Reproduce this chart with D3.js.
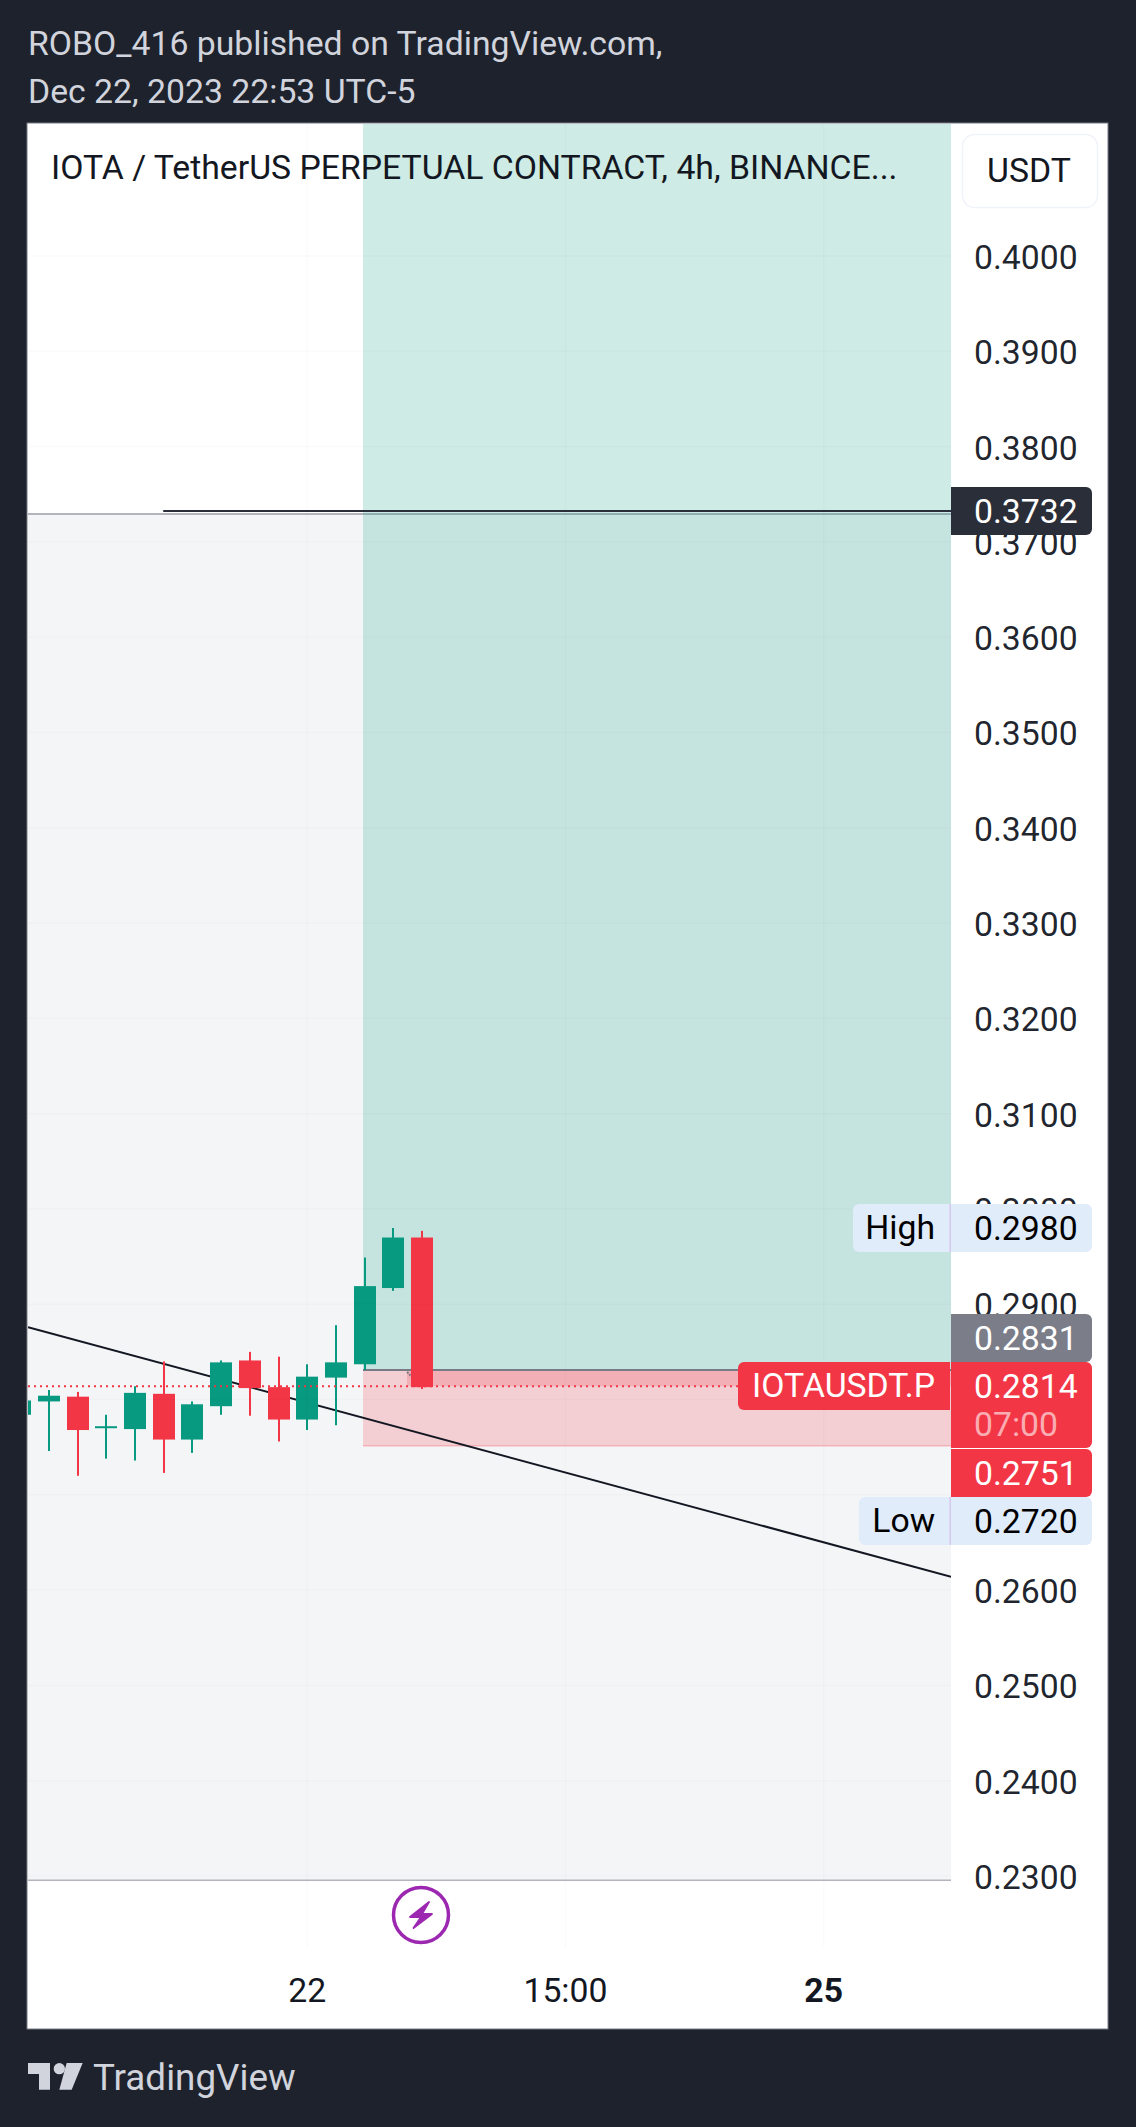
<!DOCTYPE html>
<html><head><meta charset="utf-8">
<style>html,body{margin:0;padding:0;background:#1e222d}svg{display:block}text{font-family:Roboto,sans-serif;font-size:33.75px}</style>
<script src="https://cdnjs.cloudflare.com/ajax/libs/d3/7.8.5/d3.min.js"></script>
</head><body><svg id="c" width="1136" height="2127"></svg>
<script>
// ---- data (one entry per 4h bar) ----
const barOpen  = [0.2784,0.2798,0.2803,0.2770,0.2769,0.2806,0.2758,0.2793,0.2841,0.2813,0.2779,0.2823,0.2837,0.2917,0.2970];
const barClose = [0.2799,0.2804,0.2768,0.2772,0.2807,0.2758,0.2795,0.2839,0.2812,0.2779,0.2824,0.2839,0.2919,0.2970,0.2813];
const barHigh  = [0.2805,0.2810,0.2808,0.2784,0.2814,0.2840,0.2798,0.2841,0.2850,0.2845,0.2837,0.2878,0.2949,0.2980,0.2977];
const barLow   = [0.2770,0.2746,0.2720,0.2738,0.2736,0.2723,0.2744,0.2784,0.2783,0.2756,0.2768,0.2773,0.2831,0.2914,0.2811];
const priceTicks = [0.40,0.39,0.38,0.37,0.36,0.35,0.34,0.33,0.32,0.31,0.30,0.29,0.28,0.27,0.26,0.25,0.24,0.23];
const timeTickBars = [10,19,28];
const timeTickLabels = ["22","15:00","25"];
const targetPrice = 0.3732, entryPrice = 0.2831, stopPrice = 0.2751, lastPrice = 0.2814;
const highPrice = 0.2980, lowPrice = 0.2720;
const trendBars = [0.27,32.44], trendPrices = [0.2876,0.2614];
const hLineBars = [4.98,32.44];
const titleText = "IOTA / TetherUS PERPETUAL CONTRACT, 4h, BINANCE...";
const headerLines = ["ROBO_416 published on TradingView.com,","Dec 22, 2023 22:53 UTC-5"];

const BG="#1e222d",UP="#089981",DOWN="#f23645",TXT="#131722",HL="#e1ecfb",RULE="#b2b5be";
const svg=d3.select("#c");
svg.append("rect").attr("width",1136).attr("height",2127).attr("fill",BG);
const L=28,R=951,T=124,PB=1881,FR=1107,FB=2028;
svg.append("rect").attr("x",L-1).attr("y",T-1).attr("width",FR-L+2).attr("height",FB-T+2).attr("fill","#fff").attr("stroke","#787b86").attr("stroke-width",1);
const x=d3.scaleLinear().domain([0,13]).range([20.3,393.3]);
const y=d3.scaleLinear().domain([0.40,0.23]).range([256,1876]);
svg.append("defs").append("clipPath").attr("id","pane").append("rect").attr("x",L).attr("y",T).attr("width",R-L).attr("height",PB-T);
const pane=svg.append("g").attr("clip-path","url(#pane)");
// grey zone below top line
const yT=Math.round(y(targetPrice));
pane.append("rect").attr("x",L).attr("y",yT+3).attr("width",R-L).attr("height",PB-yT-3).attr("fill","#f4f5f7");
pane.append("line").attr("x1",L).attr("x2",R).attr("y1",yT+3).attr("y2",yT+3).attr("stroke",RULE).attr("stroke-width",2);
pane.append("line").attr("x1",L).attr("x2",R).attr("y1",PB-0.5).attr("y2",PB-0.5).attr("stroke",RULE).attr("stroke-width",2);
// grid
const grid=svg.append("g").attr("stroke","#2a2e39").attr("stroke-opacity",0.02).attr("stroke-width",1.5);
priceTicks.forEach(p=>grid.append("line").attr("x1",L).attr("x2",R).attr("y1",y(p)).attr("y2",y(p)));
timeTickBars.forEach(b=>grid.append("line").attr("x1",x(b)).attr("x2",x(b)).attr("y1",T).attr("y2",1948));
// position tool
const pL=363,yE=y(entryPrice),yS=y(stopPrice),yC=y(lastPrice);
pane.append("rect").attr("x",pL).attr("y",T).attr("width",R-pL).attr("height",yE-T).attr("fill",UP).attr("fill-opacity",0.2);
pane.append("rect").attr("x",pL).attr("y",yE).attr("width",R-pL).attr("height",yS-yE).attr("fill",DOWN).attr("fill-opacity",0.2);
pane.append("rect").attr("x",407).attr("y",yE).attr("width",R-407).attr("height",yC-yE).attr("fill",DOWN).attr("fill-opacity",0.2);
pane.append("line").attr("x1",pL).attr("x2",R).attr("y1",yE).attr("y2",yE).attr("stroke","#787b86").attr("stroke-width",2);
pane.append("line").attr("x1",pL).attr("x2",R).attr("y1",yS-0.5).attr("y2",yS-0.5).attr("stroke",DOWN).attr("stroke-opacity",0.2).attr("stroke-width",1.5);
pane.append("line").attr("x1",407).attr("x2",413).attr("y1",1372).attr("y2",1378).attr("stroke","#787b86").attr("stroke-width",2).attr("stroke-dasharray","2 1");
// target line
pane.append("line").attr("x1",x(hLineBars[0])).attr("x2",x(hLineBars[1])).attr("y1",yT).attr("y2",yT).attr("stroke","#2a2e39").attr("stroke-width",2);
// trend line
const trend=d3.line().x(d=>x(d[0])).y(d=>y(d[1]));
pane.append("path").attr("d",trend(d3.zip(trendBars,trendPrices))).attr("fill","none").attr("stroke","#131722").attr("stroke-width",2);
// candles
const bars=d3.range(barOpen.length);
const col=i=>barClose[i]>=barOpen[i]?UP:DOWN;
pane.selectAll(".wick").data(bars).join("rect").attr("class","wick")
 .attr("x",i=>Math.round(x(i))-1).attr("width",2)
 .attr("y",i=>y(barHigh[i])).attr("height",i=>y(barLow[i])-y(barHigh[i])).attr("fill",col);
pane.selectAll(".body").data(bars).join("rect").attr("class","body")
 .attr("x",i=>Math.round(x(i))-11).attr("width",22)
 .attr("y",i=>y(Math.max(barOpen[i],barClose[i])))
 .attr("height",i=>Math.max(2,Math.abs(y(barOpen[i])-y(barClose[i])))).attr("fill",col);
// last price dotted line
pane.append("line").attr("x1",L).attr("x2",R).attr("y1",yC).attr("y2",yC).attr("stroke",DOWN).attr("stroke-width",2).attr("stroke-dasharray","2 4");
// title
svg.append("text").attr("x",51).attr("y",179).attr("fill",TXT).text(titleText);
// header
svg.selectAll(".hdr").data(headerLines).join("text").attr("class","hdr").attr("x",28).attr("y",(d,i)=>55+i*48).attr("fill","#d1d4dc").text(d=>d);
// price axis
const axisY=d3.axisRight(y).tickValues(priceTicks).tickSize(0).tickPadding(0).tickFormat(d3.format(".4f"));
const gY=svg.append("g").attr("transform","translate(974,0)").call(axisY);
gY.select(".domain").remove();
gY.selectAll("text").attr("x",0).attr("dy","0.37em").attr("fill",TXT).attr("fill-opacity",0.95).style("font-family","Roboto").style("font-size","33.75px");
// time axis
const gX=svg.append("g");
gX.selectAll("text").data(timeTickBars).join("text").attr("x",b=>x(b)).attr("y",2002).attr("text-anchor","middle").attr("fill",TXT)
 .attr("font-weight",(b,i)=>i==2?700:400).text((b,i)=>timeTickLabels[i]);
// USDT button
svg.append("rect").attr("x",962.5).attr("y",134.5).attr("width",135).attr("height",73).attr("rx",12).attr("fill","#fff").attr("stroke","#f0f3fa").attr("stroke-width",1.5);
svg.append("text").attr("x",1029).attr("y",182).attr("text-anchor","middle").attr("fill",TXT).text("USDT");
// price labels helper
function rr(x0,y0,w,h,fill,corners){ // corners tl,tr,br,bl
 const [a,b,c,d]=corners;
 const p=d3.path();
 p.moveTo(x0+a,y0);p.lineTo(x0+w-b,y0);p.arcTo(x0+w,y0,x0+w,y0+b,b);
 p.lineTo(x0+w,y0+h-c);p.arcTo(x0+w,y0+h,x0+w-c,y0+h,c);
 p.lineTo(x0+d,y0+h);p.arcTo(x0,y0+h,x0,y0+h-d,d);
 p.lineTo(x0,y0+a);p.arcTo(x0,y0,x0+a,y0,a);p.closePath();
 return svg.append("path").attr("d",p.toString()).attr("fill",fill);
}
const fmt=d3.format(".4f");
function priceBox(p,top,h,fill,color){
 rr(951,top,141,h,fill,[0,6,6,0]);
 svg.append("text").attr("x",974).attr("y",top+36).attr("fill",color).text(fmt(p));
}
function sideLabel(txt,left,top,fill,color){
 rr(left,top,950-left,48,fill,[6,0,0,6]);
 svg.append("text").attr("x",935).attr("y",top+35).attr("text-anchor","end").attr("fill",color).text(txt);
}
priceBox(targetPrice,487,48,"#2a2e39","#fff");
sideLabel("High",853,1204,HL,"#000");
priceBox(highPrice,1204,48,HL,"#000");
priceBox(entryPrice,1314,48,"#7b7d89","#fff");
priceBox(stopPrice,1449,48,DOWN,"#fff");
sideLabel("IOTAUSDT.P",738,1362,DOWN,"#fff");
priceBox(lastPrice,1362,86,DOWN,"#fff");
svg.append("text").attr("x",974).attr("y",1436).attr("fill","#fff").attr("fill-opacity",0.6).text("07:00");
sideLabel("Low",859,1497,HL,"#000");
priceBox(lowPrice,1497,48,HL,"#000");
[1204,1497].forEach(t=>svg.append("rect").attr("x",949.5).attr("y",t).attr("width",1.5).attr("height",48).attr("fill","#d6c8ec"));
// purple icon
const ic=svg.append("g").attr("transform","translate(421,1915)");
ic.append("circle").attr("r",27.5).attr("fill","#fff").attr("stroke","#9c27b0").attr("stroke-width",3.5);
ic.append("path").attr("d","M8,-13 L-11,2 L0,2 L-7.5,13 L11,-1 L1,-1 Z").attr("fill","#9c27b0").attr("stroke","#9c27b0").attr("stroke-width",1.8).attr("stroke-linejoin","round");
// footer logo
const lg=svg.append("g").attr("transform","translate(28,2063) scale(0.3333)").attr("fill","#d1d4dc");
lg.append("path").attr("d","M0,0H66V80H33V33H0Z");
lg.append("circle").attr("cx",94).attr("cy",17).attr("r",17);
lg.append("path").attr("d","M116,0H164L131,80H94Z");
svg.append("text").attr("x",93).attr("y",2090).attr("fill","#d1d4dc").style("font-size","36.8px").text("TradingView");
</script></body></html>
